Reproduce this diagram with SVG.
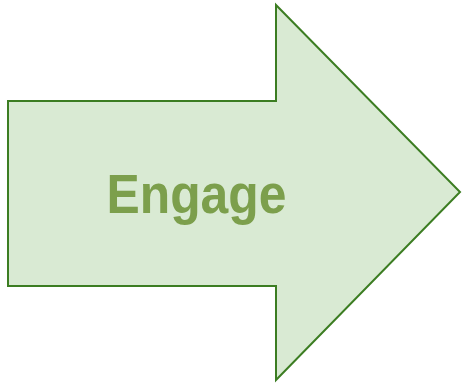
<svg xmlns="http://www.w3.org/2000/svg" width="462" height="383" viewBox="0 0 462 383">
  <style>
    .arrow { fill: #d9ead3; stroke: #3c7d22; stroke-width: 2; stroke-linejoin: miter; }
    .label { font-family: "Liberation Sans", Arial, sans-serif; font-weight: bold; font-size: 56px; fill: #7c9f4c; }
  </style>
  <rect width="462" height="383" fill="#ffffff"/>
  <g id="engage">
    <polygon class="arrow" points="8,101 276,101 276,5 460,192 276,380 276,286 8,286"/>
    <text class="label" x="196.5" y="213" text-anchor="middle" textLength="180" lengthAdjust="spacingAndGlyphs">Engage</text>
  </g>
</svg>
